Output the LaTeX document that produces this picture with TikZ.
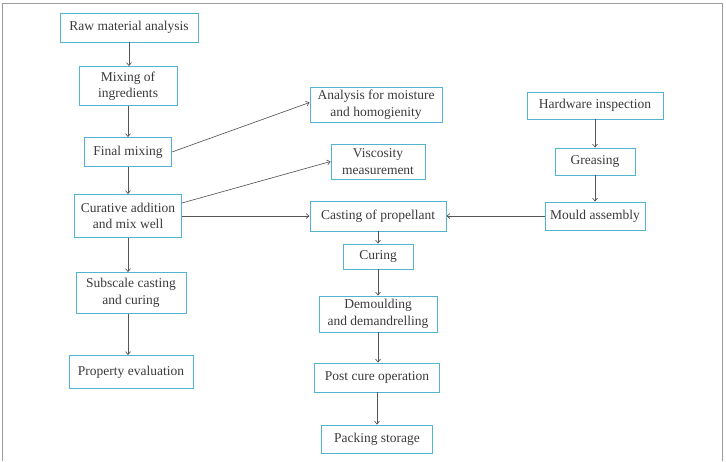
\documentclass[tikz,border=0pt]{standalone}
\usepackage{fontspec}
\setmainfont{Liberation Serif}
\usetikzlibrary{arrows.meta}
\definecolor{boxblue}{HTML}{55B3D1}
\definecolor{flowgray}{HTML}{555555}
\definecolor{textgray}{HTML}{3B3B3B}
\definecolor{framegray}{HTML}{9A9A9A}

\begin{document}
\begin{tikzpicture}[
  x=1pt, y=-1pt,
  procbox/.style={rectangle, draw=boxblue, line width=0.9pt, fill=white,
               font=\fontsize{13.5}{16.5}\selectfont, text=textgray, align=center,
               inner xsep=4pt, inner ysep=2pt},
  boxsize/.style 2 args={minimum width=#1pt, minimum height=#2pt},
  arrow/.style={-{Straight Barb[length=3pt,width=5pt]}, flowgray, line width=0.65pt},
]
\useasboundingbox (0,0) rectangle (726,461);

% page frame, open at the bottom
\draw[framegray, line width=0.8pt] (2,461) -- (2,3) -- (722,3) -- (722,461);

% propellant formulation column
\node[procbox, boxsize={138}{29}] (raw) at (129,27.5) {Raw material analysis};
\node[procbox, boxsize={98}{39}] (mix) at (128,86) {Mixing of\\ingredients};
\node[procbox, boxsize={87}{29}] (fin) at (128,152) {Final mixing};
\node[procbox, boxsize={107}{43}] (cur) at (128,216) {Curative addition\\and mix well};
\node[procbox, boxsize={110}{41}] (sub) at (131,293) {Subscale casting\\and curing};
\node[procbox, boxsize={124}{33}] (prop) at (131,372) {Property evaluation};

% checks on the mix
\node[procbox, boxsize={132}{35}] (ana) at (376,104.5) {Analysis for moisture\\and homogienity};
\node[procbox, boxsize={94}{35}] (visc) at (378,161.5) {Viscosity\\measurement};

% motor processing column
\node[procbox, boxsize={136}{30}] (cast) at (378,216) {Casting of propellant};
\node[procbox, boxsize={70}{25}] (cure) at (378,256.5) {Curing};
\node[procbox, boxsize={118}{36}] (demo) at (378,314) {Demoulding\\and demandrelling};
\node[procbox, boxsize={125}{29}] (post) at (377,377.5) {Post cure operation};
\node[procbox, boxsize={111}{28}] (pack) at (377,439) {Packing storage};

% hardware column
\node[procbox, boxsize={136}{27}] (hard) at (595,105.5) {Hardware inspection};
\node[procbox, boxsize={80}{27}] (grea) at (595,161.5) {Greasing};
\node[procbox, boxsize={100}{28}] (mould) at (595,216) {Mould assembly};

\foreach \i/\j in {raw/mix, mix/fin, fin/cur, cast/cure, cure/demo, demo/post,
                   post/pack, hard/grea, grea/mould} {
  \draw[arrow] (\i.south) -- (\i.south |- \j.north);
}
\draw[arrow] (cur.south) -- (cur.south |- sub.north);
\draw[arrow] (sub.south -| cur.south) -- (cur.south |- prop.north);

% side branches
\draw[arrow] (fin.east) -- ([yshift=2pt]ana.west);
\draw[arrow] ([yshift=13pt]cur.east) -- (visc.west);
\draw[arrow] (cur.east) -- (cast.west);
\draw[arrow] (mould.west) -- (cast.east);

\end{tikzpicture}
\end{document}
